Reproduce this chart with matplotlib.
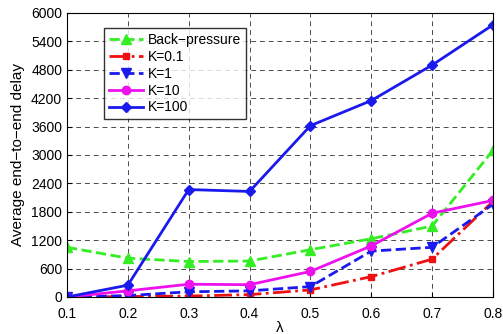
import matplotlib.pyplot as plt

plt.rcParams["font.family"] = ["Liberation Sans", "DejaVu Sans"]

lam = [0.1, 0.2, 0.3, 0.4, 0.5, 0.6, 0.7, 0.8]
back_pressure = [1050, 820, 750, 760, 1000, 1230, 1500, 3100]
k01 = [0, 10, 20, 50, 150, 430, 800, 2020]
k1 = [0, 30, 110, 130, 220, 970, 1050, 1960]
k10 = [0, 130, 270, 260, 540, 1080, 1770, 2040]
k100 = [0, 250, 2270, 2230, 3620, 4150, 4900, 5750]

fig = plt.figure(figsize=(5.03, 3.34), dpi=100)
ax = fig.add_axes([67 / 503, 1 - 297 / 334, 426 / 503, 284 / 334])

ax.plot(lam, back_pressure, "--", color="#33ee22", lw=2, marker="^", ms=7, label="Back\u2212pressure")
ax.plot(lam, k01, "-.", color="#ee1111", lw=2, marker="s", ms=5, label="K=0.1")
ax.plot(lam, k1, "--", color="#1a1aee", lw=2, marker="v", ms=7, label="K=1")
ax.plot(lam, k10, "-", color="#ee11ee", lw=2, marker="o", ms=6, label="K=10")
ax.plot(lam, k100, "-", color="#1a1aee", lw=2, marker="D", ms=5, label="K=100")

ax.set_xlim(0.1, 0.8)
ax.set_ylim(0, 6000)
ax.set_xticks(lam)
ax.set_yticks(range(0, 6001, 600))
ax.grid(True, color="black", ls=(0, (5, 4)), lw=0.7, alpha=0.7)
ax.tick_params(direction="in", labelsize=10)
ax.tick_params(axis="x", pad=7)
ax.set_xlabel("\u03bb", fontsize=11, labelpad=0)
ax.set_ylabel("Average end\u2212to\u2212end delay", fontsize=11)

leg = ax.legend(loc="upper left", bbox_to_anchor=(0.07, 0.97), fancybox=False,
                edgecolor="black", fontsize=10, handlelength=2.5,
                labelspacing=0.2, borderpad=0.35, handletextpad=0.3)
leg.get_frame().set_linewidth(1)

fig.savefig("out.png", dpi=100)
